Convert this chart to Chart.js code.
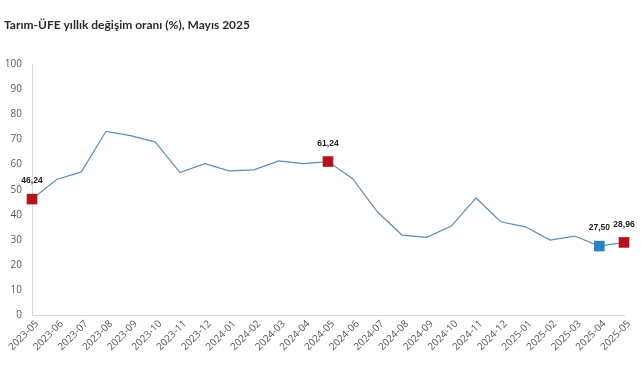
<!DOCTYPE html>
<html>
<head>
<meta charset="utf-8">
<script src="https://cdn.jsdelivr.net/npm/chart.js@4/dist/chart.umd.min.js"></script>
<style>
html,body{margin:0;padding:0;background:#fff;}
#wrap{width:641px;height:380px;position:relative;}
</style>
</head>
<body>
<div id="wrap"><canvas id="c" width="641" height="380"></canvas></div>
<script>
const categories = ["2023-05","2023-06","2023-07","2023-08","2023-09","2023-10","2023-11","2023-12","2024-01","2024-02","2024-03","2024-04","2024-05","2024-06","2024-07","2024-08","2024-09","2024-10","2024-11","2024-12","2025-01","2025-02","2025-03","2025-04","2025-05"];
const values = [46.24,54.1,57.1,73.3,71.6,69.0,56.8,60.4,57.5,57.9,61.5,60.4,61.24,54.4,41.2,31.9,31.0,35.5,46.7,37.2,35.2,29.9,31.5,27.50,28.96];
const redMarks = ["2023-05","2024-05","2025-05"];
const blueMarks = ["2025-04"];
const labelled = ["2023-05","2024-05","2025-04","2025-05"];
const yTicks = [0,10,20,30,40,50,60,70,80,90,100];
const titleText = "Tarım-ÜFE yıllık değişim oranı (%), Mayıs 2025";

const RED = "#B5121B", BLUE = "#2F80C4", LINE = "#5E8DB5";

const labelPlugin = {
  id: 'valLabels',
  afterDatasetsDraw(chart) {
    const ctx = chart.ctx;
    const meta = chart.getDatasetMeta(0);
    ctx.save();
    ctx.font = "bold 8.5px 'Liberation Sans', Arial, sans-serif";
    ctx.fillStyle = "#222";
    ctx.textAlign = "center";
    ctx.textBaseline = "middle";
    categories.forEach((c, i) => {
      if (labelled.includes(c)) {
        const p = meta.data[i];
        ctx.fillText(values[i].toFixed(2).replace('.', ','), p.x, p.y - 18);
      }
    });
    ctx.restore();
  }
};

new Chart(document.getElementById('c'), {
  type: 'line',
  data: {
    labels: categories,
    datasets: [{
      data: values,
      borderColor: LINE,
      borderWidth: 1.2,
      tension: 0,
      pointStyle: 'rect',
      pointRadius: categories.map(c => labelled.includes(c) ? 7.5 : 0),
      pointHoverRadius: 0,
      pointBackgroundColor: categories.map(c => blueMarks.includes(c) ? BLUE : RED),
      pointBorderColor: categories.map(c => blueMarks.includes(c) ? BLUE : RED),
      pointBorderWidth: 0,
      clip: false
    }]
  },
  options: {
    responsive: false,
    animation: false,
    devicePixelRatio: 1,
    layout: { padding: { left: 4, right: 17, top: 0, bottom: 0 } },
    plugins: {
      legend: { display: false },
      tooltip: { enabled: false },
      title: {
        display: true,
        text: titleText,
        align: 'start',
        color: '#2b2b2b',
        font: { family: "Lato, 'Open Sans', sans-serif", size: 12, weight: 'bold' },
        padding: { top: 18, bottom: 32 }
      }
    },
    scales: {
      y: {
        min: 0, max: 100,
        afterBuildTicks(s) { s.ticks = yTicks.map(v => ({ value: v })); },
        afterFit(s) { s.width = 28; },
        grid: { display: false, drawTicks: false },
        border: { display: true, color: '#d9d9d9', width: 1 },
        ticks: { color: '#595959', padding: 10, font: { family: "'Open Sans', sans-serif", size: 10 } }
      },
      x: {
        offset: false,
        afterFit(s) { s.height = 65; },
        grid: { display: false, drawTicks: false },
        border: { display: true, color: '#d9d9d9', width: 1 },
        ticks: { color: '#595959', maxRotation: 45, minRotation: 45, autoSkip: false, padding: 3, labelOffset: 5, font: { family: "'Open Sans', sans-serif", size: 10 } }
      }
    }
  },
  plugins: [labelPlugin]
});
</script>
</body>
</html>
